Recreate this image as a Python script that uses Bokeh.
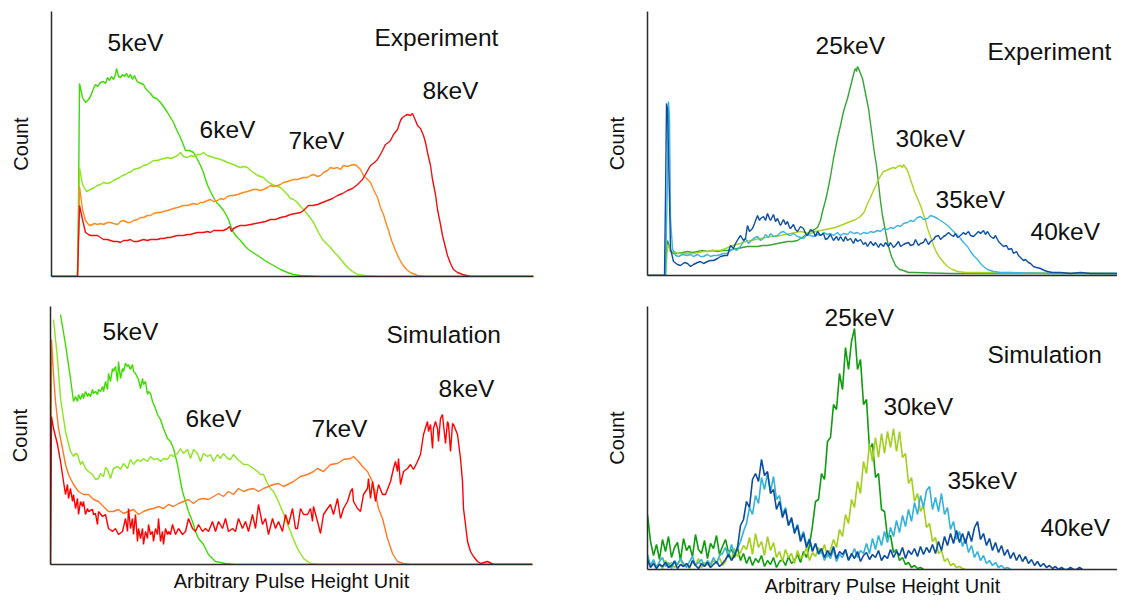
from bokeh.plotting import figure
from bokeh.models import Range1d, FixedTicker, Label
from bokeh.layouts import column, row
from bokeh.embed import file_html
from bokeh.resources import INLINE

FONT = "Liberation Sans"

# ---------------- Experiment, 5-8 keV (channel, count) ----------------
tl_5kev = [(0,0),(26,0),(27,74),(28,193),(31,179),(34,174),(37,177),(39,180),(42,188),(44,192),(46,190),(49,194),(52,195),(54,193),(56,199),(58,196),(60,200),(62,197),(64,202),(65,208),(67,200),(69,199),(71,202),(73,200),(75,203),(77,199),(79,202),(81,197),(83,201),(85,196),(87,194),(90,193),(92,192),(94,188),(96,186),(99,183),(102,179),(105,178),(109,174),(112,170),(116,164),(119,159),(122,154),(125,147),(128,141),(131,134),(134,126),(138,126),(142,124),(146,117),(149,111),(152,104),(154,97),(157,89),(160,83),(162,79),(165,74),(168,71),(172,66),(175,61),(177,57),(179,51),(182,44),(185,40),(189,36),(193,31),(197,27),(203,23),(209,19),(215,15),(222,11),(229,7),(236,4),(242,2),(249,1),(269,0),(482,0)]
tl_6kev = [(0,0),(26,0),(27,44),(28,109),(31,92),(35,85),(39,87),(43,89),(46,91),(49,92),(52,94),(56,93),(59,94),(62,96),(64,97),(68,99),(71,101),(74,102),(77,104),(80,105),(82,107),(86,108),(89,109),(92,111),(96,112),(99,114),(102,116),(106,116),(109,117),(112,118),(116,119),(119,118),(122,119),(126,121),(129,124),(132,120),(136,119),(139,121),(142,120),(146,122),(149,122),(152,124),(156,121),(159,120),(162,119),(166,118),(169,117),(172,116),(176,114),(179,113),(182,112),(186,110),(189,109),(192,110),(196,109),(199,106),(202,104),(206,101),(209,100),(212,99),(216,95),(219,93),(223,91),(226,90),(229,89),(232,86),(236,82),(239,78),(242,77),(246,74),(249,70),(252,67),(257,61),(262,54),(267,44),(271,37),(275,33),(279,29),(283,24),(286,21),(291,15),(296,9),(301,5),(306,2),(314,1),(329,0),(482,0)]
tl_7kev = [(0,0),(26,0),(27,44),(28,90),(31,67),(34,56),(37,52),(39,51),(43,53),(46,52),(49,53),(52,52),(56,54),(59,54),(62,53),(66,52),(69,55),(72,56),(76,54),(79,54),(82,56),(86,57),(89,59),(92,59),(96,61),(99,61),(102,63),(106,64),(109,64),(112,65),(116,66),(119,67),(122,68),(126,69),(129,70),(132,71),(136,71),(139,72),(142,73),(146,72),(149,74),(152,74),(156,76),(159,77),(162,75),(166,76),(169,78),(172,77),(176,80),(179,81),(182,81),(186,82),(189,83),(192,84),(196,85),(199,86),(202,87),(206,87),(209,86),(212,87),(216,89),(219,91),(222,90),(226,91),(229,92),(232,94),(236,95),(239,96),(242,97),(246,97),(249,98),(252,99),(256,99),(259,101),(262,102),(266,100),(269,101),(272,104),(276,106),(279,109),(282,108),(286,109),(289,107),(292,111),(296,110),(299,111),(302,112),(305,111),(307,109),(309,107),(312,101),(316,97),(319,94),(322,87),(326,79),(329,69),(332,62),(335,52),(337,46),(340,36),(344,26),(347,19),(351,12),(355,7),(359,4),(366,1),(374,0),(482,0)]
tl_8kev = [(0,0),(26,0),(27,34),(28,71),(31,57),(34,44),(37,42),(39,41),(43,41),(46,41),(49,39),(52,37),(56,37),(59,36),(62,35),(66,35),(69,34),(72,36),(76,36),(79,37),(82,35),(86,35),(89,36),(92,37),(96,36),(99,37),(102,37),(106,37),(109,38),(112,38),(116,39),(119,39),(122,40),(126,41),(129,41),(132,41),(136,42),(139,42),(142,43),(146,44),(149,44),(152,44),(156,45),(159,44),(162,46),(166,46),(169,46),(172,46),(176,48),(178,50),(180,45),(182,48),(186,50),(189,51),(194,51),(199,52),(204,53),(209,54),(214,55),(219,57),(224,57),(229,59),(234,60),(239,62),(244,63),(249,64),(252,66),(257,71),(261,71),(266,72),(271,74),(276,76),(281,78),(286,81),(291,83),(296,86),(301,88),(306,92),(311,97),(315,104),(319,111),(323,114),(326,117),(330,124),(334,132),(337,134),(339,136),(342,142),(346,147),(349,156),(351,159),(354,161),(356,162),(359,161),(361,163),(364,156),(366,151),(369,148),(372,141),(374,134),(376,124),(379,111),(381,97),(384,82),(386,67),(389,52),(391,41),(394,29),(396,21),(399,13),(402,7),(406,4),(411,2),(419,0),(482,0)]

# ---------------- Experiment, 25-40 keV (channel, count) ----------------
tr_25kev = [(0,0),(18,0),(19,27),(20,35),(21,32),(23,24),(26,22),(30,22),(35,23),(40,24),(45,23),(50,24),(55,25),(60,24),(65,25),(70,24),(75,25),(80,25),(85,26),(90,27),(95,28),(100,29),(105,29),(110,29),(115,30),(120,30),(125,31),(130,32),(135,33),(140,34),(145,34),(150,35),(153,37),(156,39),(160,42),(163,44),(167,46),(170,48),(173,55),(175,64),(178,75),(180,84),(183,99),(186,117),(190,137),(193,150),(196,164),(200,177),(202,185),(205,197),(207,205),(208,207),(209,204),(210,209),(211,207),(213,202),(215,197),(217,187),(219,177),(221,167),(223,152),(225,137),(227,122),(229,110),(231,92),(233,74),(235,60),(238,44),(241,29),(244,19),(248,10),(252,6),(256,5),(261,3),(266,3),(303,2),(476,2)]
tr_30kev = [(0,0),(18,0),(20,27),(21,30),(23,25),(26,24),(31,22),(36,22),(41,22),(46,22),(51,23),(56,24),(60,24),(65,25),(70,25),(73,25),(78,27),(83,29),(88,31),(93,32),(98,34),(103,35),(108,36),(113,37),(118,38),(123,39),(128,39),(133,40),(138,41),(143,42),(148,43),(153,44),(158,43),(163,42),(168,44),(173,45),(178,46),(183,47),(188,48),(193,50),(198,52),(203,54),(208,56),(213,59),(217,64),(220,72),(223,78),(226,85),(229,91),(231,96),(234,101),(236,104),(239,105),(243,107),(246,108),(248,107),(250,109),(253,110),(255,108),(256,111),(258,108),(260,105),(262,99),(265,90),(267,84),(270,77),(273,70),(275,64),(278,55),(280,47),(283,39),(286,30),(289,23),(293,17),(297,12),(300,9),(305,6),(310,4),(318,3),(328,3),(476,2)]
tr_35kev = [(0,0),(18,0),(20,97),(21,174),(22,157),(23,57),(25,27),(28,20),(31,19),(35,21),(40,20),(43,21),(46,19),(50,21),(53,19),(56,19),(60,21),(63,19),(66,20),(70,20),(73,21),(76,22),(80,22),(83,25),(86,27),(89,25),(93,29),(96,34),(98,37),(101,32),(103,34),(106,37),(110,39),(113,35),(116,37),(118,41),(121,38),(123,42),(126,39),(130,40),(133,43),(136,44),(140,41),(143,40),(146,42),(150,39),(153,38),(156,37),(160,41),(163,40),(166,39),(170,41),(173,40),(176,43),(180,41),(183,42),(186,40),(190,43),(193,40),(196,42),(200,41),(203,44),(206,42),(210,43),(213,41),(216,43),(220,42),(223,44),(226,43),(230,45),(233,44),(236,47),(240,46),(243,48),(246,47),(250,50),(253,49),(256,52),(260,53),(263,55),(266,54),(270,58),(273,59),(276,56),(280,57),(283,60),(286,59),(290,57),(293,55),(296,53),(300,50),(303,47),(306,44),(310,40),(313,37),(316,33),(320,29),(323,24),(326,20),(330,16),(333,12),(336,9),(340,6),(346,4),(353,3),(363,3),(403,2),(476,2)]
tr_40kev = [(0,0),(17,0),(18,77),(19,172),(20,167),(22,77),(23,27),(26,14),(30,11),(33,10),(37,13),(40,12),(43,9),(46,11),(50,13),(53,14),(56,12),(60,14),(63,15),(66,15),(70,17),(73,19),(77,20),(80,20),(82,27),(83,30),(86,27),(88,32),(91,37),(93,40),(96,35),(98,37),(100,50),(102,44),(105,47),(107,52),(110,60),(112,55),(113,57),(116,59),(118,55),(120,62),(122,57),(123,55),(126,61),(128,54),(130,57),(132,52),(133,50),(136,56),(138,51),(140,54),(142,48),(143,47),(146,51),(148,46),(150,44),(153,49),(156,47),(158,42),(160,40),(163,46),(166,44),(168,39),(170,44),(173,40),(176,42),(178,36),(180,37),(183,41),(186,35),(189,39),(191,35),(193,39),(196,34),(198,39),(200,35),(203,37),(206,32),(208,37),(210,34),(213,36),(216,31),(218,33),(220,29),(223,34),(226,30),(228,33),(231,28),(233,32),(236,29),(238,33),(241,29),(243,33),(246,28),(248,30),(251,34),(253,29),(256,31),(258,32),(261,33),(263,30),(266,31),(268,36),(271,30),(273,32),(276,33),(278,37),(281,31),(283,34),(286,36),(288,39),(291,40),(293,36),(296,39),(298,40),(301,43),(303,41),(306,39),(308,42),(310,38),(313,40),(316,43),(318,41),(321,44),(323,40),(326,39),(328,41),(331,44),(333,42),(336,45),(338,41),(340,44),(343,39),(346,37),(348,40),(351,34),(353,32),(356,29),(359,30),(361,26),(364,27),(366,22),(369,24),(371,20),(373,18),(376,15),(378,16),(381,13),(383,12),(386,9),(389,8),(393,7),(397,5),(400,4),(405,3),(413,3),(423,2),(433,3),(443,2),(476,2)]

# ---------------- Simulation, 5-8 keV (channel, count) ----------------
bl_5kev = [(10,250),(15,220),(20,186),(23,163),(25,168),(27,163),(28,170),(30,165),(32,171),(33,166),(35,173),(37,168),(38,171),(40,168),(42,175),(43,171),(45,173),(47,170),(48,175),(50,173),(52,178),(53,173),(55,183),(57,175),(58,191),(60,183),(62,196),(63,193),(65,198),(67,183),(68,203),(70,186),(72,196),(73,193),(75,201),(77,198),(78,200),(80,195),(82,200),(83,193),(85,191),(88,185),(90,176),(92,186),(93,180),(95,183),(97,170),(98,173),(100,171),(102,163),(105,156),(107,150),(110,145),(113,136),(117,126),(120,123),(123,116),(127,100),(130,83),(132,73),(135,63),(138,53),(142,43),(145,33),(148,26),(153,20),(158,10),(165,3),(175,1),(185,0),(482,0)]
bl_6kev = [(3,245),(7,206),(10,166),(15,133),(20,113),(23,108),(25,111),(27,110),(30,100),(32,103),(35,96),(38,93),(42,90),(45,85),(48,86),(50,91),(53,88),(55,97),(57,95),(60,86),(62,93),(63,96),(67,98),(70,95),(73,101),(77,96),(80,105),(83,100),(87,105),(90,103),(93,106),(97,103),(100,108),(103,105),(107,106),(110,103),(113,106),(117,105),(120,110),(123,108),(127,111),(130,116),(133,111),(137,115),(140,106),(143,115),(147,111),(150,103),(153,111),(157,108),(160,110),(163,103),(167,110),(170,106),(173,111),(177,106),(180,105),(183,110),(187,105),(190,103),(193,100),(197,100),(200,98),(203,96),(207,93),(210,90),(213,90),(217,81),(220,76),(223,73),(227,65),(230,58),(233,51),(237,40),(240,33),(243,25),(247,16),(250,11),(253,6),(260,1),(270,0),(482,0)]
bl_7kev = [(0,0),(1,225),(3,190),(5,163),(8,136),(12,116),(15,100),(18,90),(23,80),(28,73),(33,70),(38,70),(43,65),(48,63),(53,58),(58,53),(63,53),(68,55),(73,51),(78,53),(83,55),(88,50),(93,53),(98,55),(103,56),(108,58),(113,56),(118,60),(123,58),(128,61),(133,63),(138,65),(143,61),(148,65),(153,66),(158,65),(163,68),(168,71),(173,68),(178,73),(183,70),(188,76),(193,73),(198,75),(203,76),(208,73),(213,76),(218,78),(223,80),(228,81),(233,78),(237,80),(243,83),(250,88),(257,90),(263,93),(267,96),(273,93),(280,100),(287,101),(293,105),(300,106),(303,108),(308,103),(312,98),(317,93),(322,83),(325,70),(328,56),(332,46),(337,26),(342,11),(347,3),(353,1),(360,0),(482,0)]
bl_8kev = [(0,0),(1,148),(3,136),(7,120),(10,103),(13,83),(15,70),(17,80),(18,66),(20,76),(22,63),(23,70),(25,56),(27,66),(28,50),(30,63),(32,58),(33,63),(35,50),(37,56),(38,53),(42,55),(43,50),(45,51),(47,40),(48,53),(52,48),(55,50),(58,36),(62,33),(65,36),(68,30),(72,33),(75,46),(77,33),(78,56),(80,36),(82,46),(83,30),(85,50),(87,23),(88,36),(90,26),(92,36),(93,20),(95,33),(97,26),(98,40),(100,30),(102,33),(103,23),(105,36),(107,30),(108,46),(110,23),(112,33),(113,20),(115,36),(117,30),(118,33),(120,30),(122,40),(125,30),(128,36),(132,30),(135,33),(138,46),(142,36),(145,33),(148,40),(152,33),(155,36),(158,33),(162,43),(165,33),(168,43),(172,36),(175,46),(178,33),(182,36),(185,33),(188,46),(192,36),(195,43),(198,33),(202,50),(205,36),(208,60),(212,40),(215,46),(218,30),(222,46),(225,36),(228,43),(232,33),(235,50),(238,40),(242,56),(245,36),(247,36),(250,56),(253,50),(257,50),(260,56),(262,43),(263,58),(267,43),(270,31),(273,50),(277,56),(280,60),(283,50),(287,66),(290,46),(293,56),(297,63),(300,73),(302,76),(303,63),(307,56),(310,53),(313,70),(317,76),(318,86),(320,66),(322,83),(325,63),(328,80),(332,70),(335,70),(340,83),(343,96),(345,103),(347,93),(348,106),(350,80),(353,93),(357,96),(360,100),(363,95),(367,103),(370,110),(373,130),(377,143),(378,133),(380,140),(382,116),(383,136),(385,143),(387,136),(388,123),(390,146),(392,150),(393,140),(395,121),(397,143),(398,140),(400,113),(402,141),(403,140),(407,130),(410,106),(412,83),(413,56),(415,40),(417,23),(420,13),(423,8),(427,3),(430,1),(437,3),(443,0),(482,0)]

# ---------------- Simulation, 25-40 keV (counts per channel, channel = index) ----------------
br_25kev = [55,
    28,14,25,10,30,18,33,12,22,27,9,31,19,24,13,35,20,16,29,11,26,21,34,15,23,30,17,
    20,12,22,9,16,6,13,4,11,7,14,3,9,5,12,2,8,10,4,13,6,9,15,7,18,12,24,
    44,68,70,96,90,128,132,165,160,196,180,222,200,228,241,200,210,165,170,120,
    126,92,96,60,58,32,34,17,20,9,12,5,7,2,4,1,2,0]
br_30kev = [8,
    3,8,2,6,1,9,4,7,2,5,10,3,6,1,8,4,11,2,7,5,3,9,6,12,4,8,
    18,10,21,13,17,24,
    20,32,15,36,22,28,14,33,19,27,12,
    18,8,20,12,16,6,19,11,14,22,9,17,
    13,22,16,25,12,20,
    30,22,40,33,55,46,70,62,88,76,108,96,126,108,132,112,136,116,138,122,
    141,118,138,112,116,86,92,68,76,58,64,42,46,28,32,16,19,8,11,4,6,2,3,1,0]
br_35kev = [15,
    4,10,2,8,12,3,7,1,9,5,11,6,2,8,13,4,7,10,3,9,5,12,6,14,
    16,22,12,25,15,21,28,
    38,46,62,55,74,66,92,80,96,78,93,70,74,55,62,44,50,38,45,31,38,24,31,19,26,15,
    18,9,16,11,20,8,15,12,19,10,
    14,21,12,19,16,
    26,16,31,20,34,24,38,27,42,33,49,37,54,43,60,48,67,55,74,62,
    79,83,60,72,58,76,55,62,40,48,30,38,23,31,17,24,12,18,9,14,6,9,4,7,2,4,1,2,0]
br_40kev = [10,
    2,6,1,5,3,7,2,4,8,1,5,3,6,2,9,4,1,6,3,7,2,5,8,3,6,
    10,15,9,14,
    22,44,50,68,62,90,96,88,110,94,98,76,80,60,68,52,60,44,52,36,44,28,36,22,30,18,26,16,
    21,12,19,14,23,11,18,15,20,
    9,16,11,18,8,14,17,10,15,12,19,9,14,11,
    20,12,18,14,22,11,19,15,21,13,
    23,15,22,17,25,16,
    28,19,33,24,36,26,39,27,36,26,38,28,42,48,30,36,24,31,19,27,
    17,24,14,20,11,17,9,15,8,13,6,10,4,8,3,6,2,4,1,3,0,2,0,0,2,0,0,2,0]

low_labels = ["5keV", "6keV", "7keV", "8keV"]
high_labels = ["25keV", "30keV", "35keV", "40keV"]
low_colors_exp = ["#3ddc00", "#8be61c", "#ff8a1e", "#f01010"]
low_colors_sim = ["#3ddc00", "#8be61c", "#ff7a22", "#ff0000"]
high_colors_exp = ["#35a535", "#a8d420", "#3bb6de", "#0e4ea3"]
high_colors_sim = ["#0c9c0c", "#a2cf1c", "#33b2d8", "#0b4c9d"]

LABEL_DY = 10  # rendered text sits lower than its anchor; lift it


def make_fig(fw, fh, xmax, ymax, bl, br, bt, bb, xlabel=None):
    p = figure(frame_width=fw, frame_height=fh,
               x_range=Range1d(0, xmax), y_range=Range1d(0, ymax),
               output_backend="svg", toolbar_location=None,
               min_border_left=bl, min_border_right=br,
               min_border_top=bt, min_border_bottom=bb)
    p.outline_line_color = None
    p.xgrid.visible = False
    p.ygrid.visible = False
    for ax in (p.xaxis[0], p.yaxis[0]):
        ax.ticker = FixedTicker(ticks=[])
        ax.major_tick_line_color = None
        ax.minor_tick_line_color = None
        ax.major_tick_out = 0
        ax.major_tick_in = 0
        ax.minor_tick_out = 0
        ax.minor_tick_in = 0
        ax.major_label_text_font_size = "0px"
        ax.major_label_standoff = 0
        ax.axis_line_color = "#2b2b2b"
        ax.axis_line_width = 1.5
        ax.axis_label_text_font = FONT
        ax.axis_label_text_font_size = "20px"
        ax.axis_label_text_font_style = "normal"
        ax.axis_label_text_color = "#111111"
    p.yaxis[0].axis_label = "Count"
    p.yaxis[0].axis_label_standoff = 20
    if xlabel:
        p.xaxis[0].axis_label = xlabel
        p.xaxis[0].axis_label_standoff = 5
    return p


def add_label(p, x, y, text):
    p.add_layout(Label(x=x, y=y + LABEL_DY, text=text, text_font=FONT, text_font_size="24.5px",
                       text_color="#111111", text_baseline="alphabetic", text_align="left"))


def draw_pairs(p, series, colors, width):
    for pts, c in zip(series, colors):
        xs = [a for a, b in pts]
        ys = [b for a, b in pts]
        p.line(xs, ys, line_color=c, line_width=width)


def draw_counts(p, series, colors, width):
    for vals, c in zip(series, colors):
        p.line(list(range(len(vals))), vals, line_color=c, line_width=width)


# top-left: experiment 5-8 keV
p1 = make_fig(482, 265, 482, 265, 51, 20, 7, 9)
draw_pairs(p1, [tl_5kev, tl_6kev, tl_7kev, tl_8kev], low_colors_exp, 1.4)
for (x, y), t in zip([(56, 224), (148, 137), (237, 126), (371, 176)], low_labels):
    add_label(p1, x, y, t)
add_label(p1, 323, 229, "Experiment")

# top-right: experiment 25-40 keV
p2 = make_fig(470, 264, 470, 264, 94, 0, 11, 6)
draw_pairs(p2, [tr_25kev, tr_30kev, tr_35kev, tr_40kev], high_colors_exp, 1.4)
for (x, y), t in zip([(168, 220), (248, 127), (288, 66), (383, 34)], high_labels):
    add_label(p2, x, y, t)
add_label(p2, 340, 214, "Experiment")

# bottom-left: simulation 5-8 keV
p3 = make_fig(482, 258, 482, 258, 50, 21, 25, 31, "Arbitrary Pulse Height Unit")
draw_pairs(p3, [bl_5kev, bl_6kev, bl_7kev, bl_8kev], low_colors_sim, 1.4)
for (x, y), t in zip([(52, 223), (135, 136), (261, 126), (388, 166)], low_labels):
    add_label(p3, x, y, t)
add_label(p3, 336, 220, "Simulation")

# bottom-right: simulation 25-40 keV (3 px per channel)
p4 = make_fig(470, 263, 470 / 3, 263, 94, 0, 20, 31, "Arbitrary Pulse Height Unit")
draw_counts(p4, [br_25kev, br_30kev, br_35kev, br_40kev], high_colors_sim, 1.6)
for (x, y), t in zip([(59, 242), (78.7, 153), (100, 79), (131, 32)], high_labels):
    add_label(p4, x, y, t)
add_label(p4, 113.3, 205, "Simulation")

layout = column(row(p1, p2), row(p3, p4))
open("out.html", "w").write(file_html(layout, INLINE))
